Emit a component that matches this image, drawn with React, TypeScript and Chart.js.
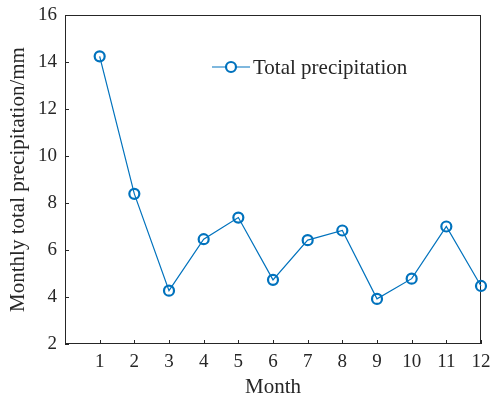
import React, { useEffect, useRef } from "react";
import { Chart, registerables } from "chart.js";

Chart.register(...registerables);

const months = [1, 2, 3, 4, 5, 6, 7, 8, 9, 10, 11, 12];
const precipitation = [14.24, 8.39, 4.27, 6.46, 7.38, 4.73, 6.42, 6.83, 3.92, 4.78, 7.0, 4.47];
const yTicks = [2, 4, 6, 8, 10, 12, 14, 16];
const seriesLabel = "Total precipitation";
const xTitle = "Month";
const yTitle = "Monthly total precipitation/mm";

const LINE_COLOR = "#0072BD";
const INK = "#262626";
const FONT = "'Liberation Serif', 'Times New Roman', serif";
const TICK_SIZE = 19;
const TITLE_SIZE = 21;

// Box frame with inward tick marks, drawn under the data.
const framePlugin = {
  id: "frame",
  beforeDatasetsDraw(chart: any) {
    const { ctx, chartArea: a, scales } = chart;
    ctx.save();
    ctx.strokeStyle = INK;
    ctx.lineWidth = 1;
    ctx.strokeRect(a.left + 0.5, a.top + 0.5, a.right - a.left - 1, a.bottom - a.top - 1);
    ctx.beginPath();
    for (const m of months) {
      const x = Math.round(scales.x.getPixelForValue(m)) + 0.5;
      ctx.moveTo(x, a.bottom);
      ctx.lineTo(x, a.bottom - 4);
    }
    for (const t of yTicks) {
      const y = Math.round(scales.y.getPixelForValue(t)) + 0.5;
      ctx.moveTo(a.left, y);
      ctx.lineTo(a.left + 4, y);
    }
    ctx.stroke();
    ctx.restore();
  },
};

// Legend entry: short line with a marker, followed by the label.
const legendPlugin = {
  id: "lineLegend",
  afterDraw(chart: any) {
    const { ctx, chartArea: a } = chart;
    const ds = chart.data.datasets[0];
    const x0 = a.left + 147;
    const y0 = a.top + 52;
    ctx.save();
    ctx.strokeStyle = ds.borderColor;
    ctx.lineWidth = ds.borderWidth;
    ctx.beginPath();
    ctx.moveTo(x0, y0);
    ctx.lineTo(x0 + 38, y0);
    ctx.stroke();
    ctx.lineWidth = ds.pointBorderWidth;
    ctx.fillStyle = "#ffffff";
    ctx.beginPath();
    ctx.arc(x0 + 19, y0, ds.pointRadius, 0, Math.PI * 2);
    ctx.fill();
    ctx.stroke();
    ctx.fillStyle = INK;
    ctx.font = `${TITLE_SIZE}px ${FONT}`;
    ctx.textBaseline = "middle";
    ctx.textAlign = "left";
    ctx.fillText(ds.label, x0 + 41, y0 + 1);
    ctx.restore();
  },
};

export default function App() {
  const canvasRef = useRef<HTMLCanvasElement | null>(null);

  useEffect(() => {
    document.body.style.margin = "0";
    const canvas = canvasRef.current;
    if (!canvas) return;
    const chart = new Chart(canvas, {
      type: "line",
      data: {
        datasets: [
          {
            label: seriesLabel,
            data: months.map((m, i) => ({ x: m, y: precipitation[i] })),
            borderColor: LINE_COLOR,
            borderWidth: 1.2,
            pointRadius: 5,
            pointBorderWidth: 2.2,
            pointBackgroundColor: "rgba(255,255,255,0)",
            pointBorderColor: LINE_COLOR,
            tension: 0,
            clip: false as any,
          },
        ],
      },
      options: {
        responsive: false,
        animation: false,
        devicePixelRatio: 1,
        layout: { padding: { top: 15, right: 10, left: 0, bottom: 0 } },
        plugins: {
          legend: { display: false },
          tooltip: { enabled: false },
        },
        scales: {
          x: {
            type: "linear",
            min: 0,
            max: 12,
            grid: { display: false, drawTicks: false },
            border: { display: false },
            afterBuildTicks: (scale: any) => {
              scale.ticks = months.map((m) => ({ value: m }));
            },
            afterFit: (scale: any) => {
              scale.height = 57;
              scale.paddingLeft = 0;
              scale.paddingRight = 0;
            },
            ticks: {
              autoSkip: false,
              maxRotation: 0,
              minRotation: 0,
              padding: 7,
              color: INK,
              font: { family: FONT, size: TICK_SIZE },
            },
            title: {
              display: true,
              text: xTitle,
              color: INK,
              font: { family: FONT, size: TITLE_SIZE },
              padding: { top: 0, bottom: 1 },
            },
          },
          y: {
            type: "linear",
            min: 2,
            max: 16,
            grid: { display: false, drawTicks: false },
            border: { display: false },
            afterBuildTicks: (scale: any) => {
              scale.ticks = yTicks.map((t) => ({ value: t }));
            },
            afterFit: (scale: any) => {
              scale.width = 65;
              scale.paddingTop = 0;
              scale.paddingBottom = 0;
            },
            ticks: {
              padding: 8,
              color: INK,
              font: { family: FONT, size: TICK_SIZE },
            },
            title: {
              display: true,
              text: yTitle,
              color: INK,
              font: { family: FONT, size: TITLE_SIZE },
              padding: { top: 6, bottom: 0 },
            },
          },
        },
      },
      plugins: [framePlugin, legendPlugin],
    });
    return () => chart.destroy();
  }, []);

  return <canvas ref={canvasRef} width={491} height={401} style={{ display: "block" }} />;
}
